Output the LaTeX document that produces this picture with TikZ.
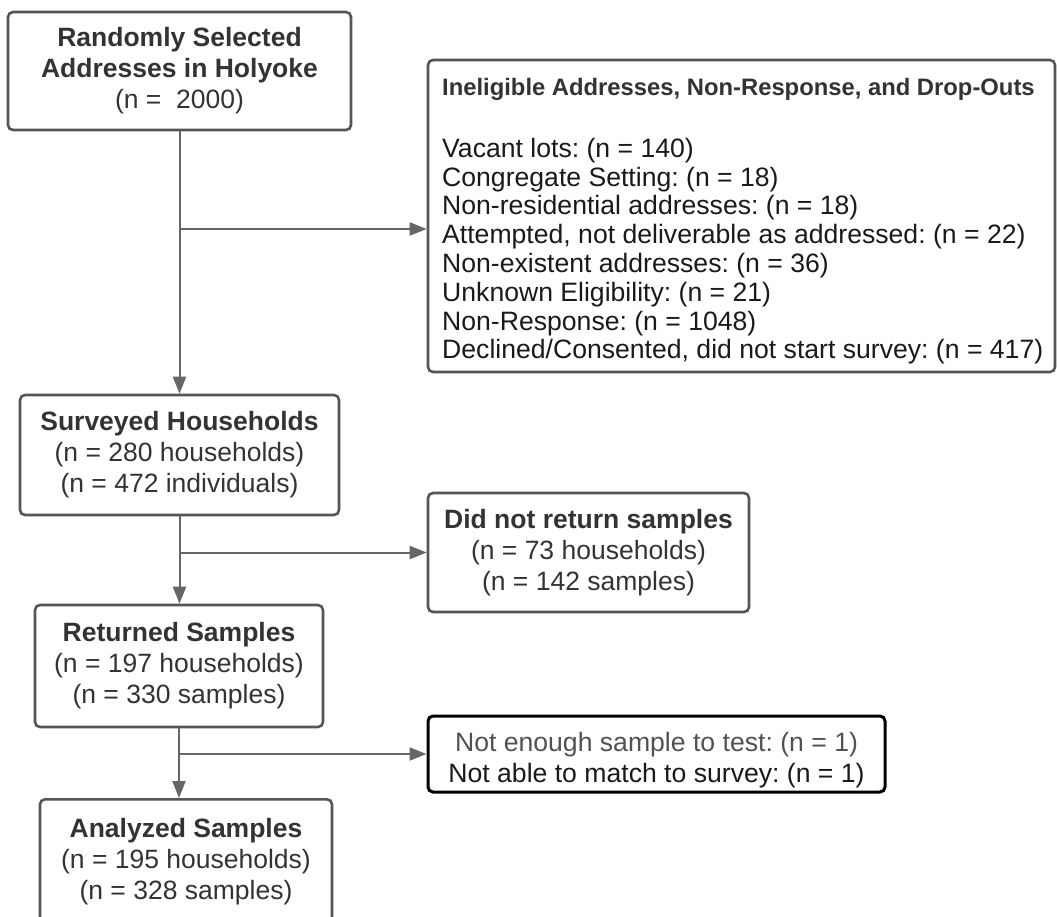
\documentclass[tikz,border=0pt]{standalone}
\usepackage{fontspec}
\setmainfont{Liberation Sans}
\usetikzlibrary{arrows.meta}
\frenchspacing
\definecolor{txt}{HTML}{333333}
\definecolor{dark}{HTML}{1A1A1A}
\definecolor{brd}{HTML}{555555}
\definecolor{lin}{HTML}{666666}
\tikzset{
  box/.style={draw=brd, line width=2.6pt, rounded corners=5pt, fill=white, text=txt, align=center, inner sep=0pt},
  conn/.style={draw=lin, line width=2pt, -{Triangle[length=17pt,width=13pt]}},
  body/.style={font=\fontsize{26.5}{31}\selectfont},
  listtxt/.style={font=\fontsize{26.6}{28.8}\selectfont},
}
\begin{document}
\begin{tikzpicture}[x=1pt,y=-1pt]
\useasboundingbox (0,0) rectangle (1057,916);
\begin{scope}
\clip (0,0) rectangle (1057,916);
\node[box, body, minimum width=343pt, minimum height=118pt] (rand) at (179.5,71)
  {\textbf{Randomly Selected}\\\textbf{Addresses in Holyoke}\\(n =~ 2000)};
\node[box, minimum width=627pt, minimum height=312pt] (inel) at (741.5,216) {};
\node[text=dark, anchor=north west, inner sep=0pt, align=left, listtxt] (inelt) at (442,77.6)
  {{\fontsize{23.8}{26}\selectfont\color{txt}\textbf{Ineligible Addresses, Non-Response, and Drop-Outs}}\\[33.5pt]
   Vacant lots: (n = 140)\\
   Congregate Setting: (n = 18)\\
   Non-residential addresses: (n = 18)\\
   Attempted, not deliverable as addressed: (n = 22)\\
   Non-existent addresses: (n = 36)\\
   Unknown Eligibility: (n = 21)\\
   Non-Response: (n = 1048)\\
   Declined/Consented, did not start survey: (n = 417)};
\node[box, body, minimum width=319pt, minimum height=120pt] (surv) at (179.5,455)
  {\textbf{Surveyed Households}\\(n = 280 households)\\(n = 472 individuals)};
\node[box, body, minimum width=321pt, minimum height=119pt] (dnr) at (588.5,552.5)
  {\textbf{Did not return samples}\\(n = 73 households)\\(n = 142 samples)};
\node[box, body, minimum width=288pt, minimum height=122pt] (ret) at (179,666)
  {\textbf{Returned Samples}\\(n = 197 households)\\(n = 330 samples)};
\node[box, draw=black, line width=3pt, minimum width=457pt, minimum height=76pt] (ne) at (656.5,754) {};
\node[listtxt, align=center, inner sep=0pt] (net) at (656.5,760)
  {{\color{txt!85}Not enough sample to test: (n = 1)}\\[2pt]{\color{dark}Not able to match to survey: (n = 1)}};
\node[box, body, minimum width=292pt, minimum height=124pt, anchor=north] (ana) at (186,798)
  {\textbf{Analyzed Samples}\\(n = 195 households)\\(n = 328 samples)};
\end{scope}
\coordinate (b1) at (rand.south |- 0,229);
\coordinate (b2) at (surv.south |- 0,552.5);
\coordinate (b3) at (ret.south |- 0,754);
\draw[conn] (rand.south) -- (rand.south |- surv.north);
\draw[conn] (b1) -- (inel.west |- b1);
\draw[conn] (surv.south) -- (surv.south |- ret.north);
\draw[conn] (b2) -- (dnr.west);
\draw[conn] (ret.south) -- (ret.south |- ana.north);
\draw[conn] (b3) -- (ne.west);
\end{tikzpicture}
\end{document}
